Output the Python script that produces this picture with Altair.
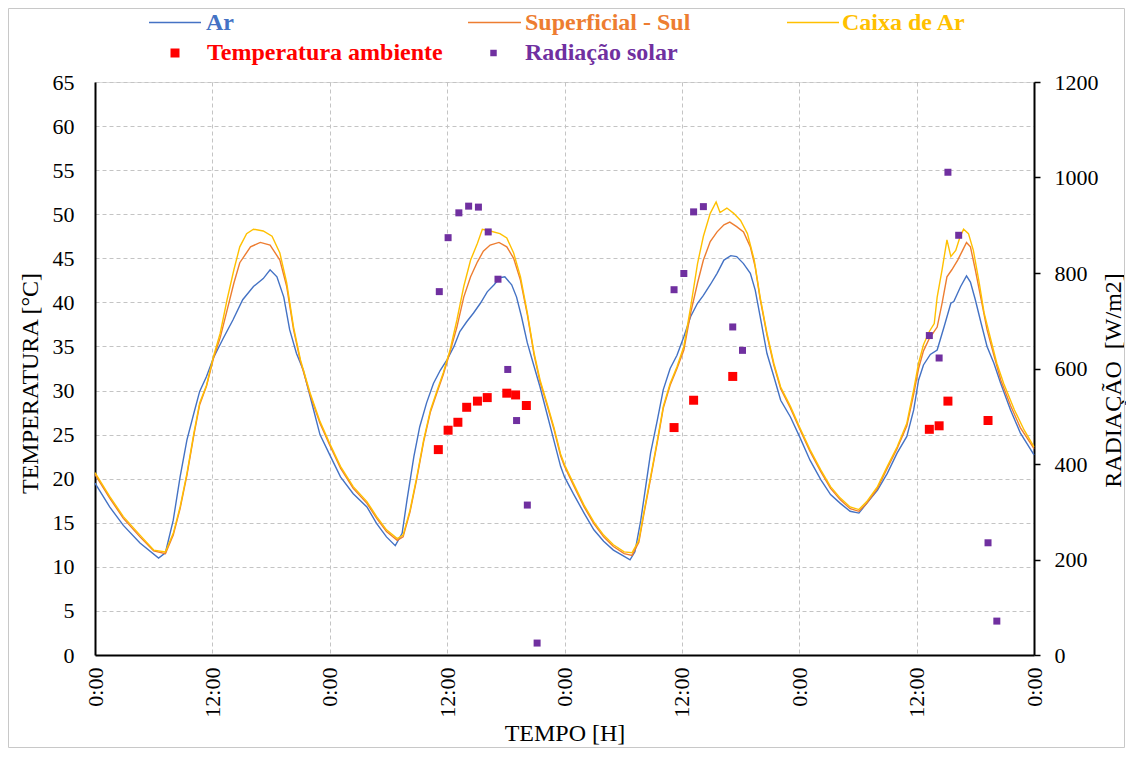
import altair as alt
import pandas as pd

FONT = "Liberation Serif"

# ---- Ar (blue) ----
AR_H = [0.0, 1.5, 2.9, 4.6, 6.5, 7.2, 8.0, 8.7, 9.4, 10.1, 10.7, 11.4, 12.1, 13.1, 14.1, 15.1, 16.2, 17.2, 17.9,
        18.6, 19.3, 19.9, 20.6, 21.3, 22.0, 23.0, 24.0, 25.1, 26.4, 27.8, 28.8, 29.8, 30.7, 31.4, 31.9, 32.6,
        33.2, 33.9, 34.6, 35.3, 36.0, 36.7, 37.3, 38.0, 38.7, 39.4, 40.1, 40.8, 41.4, 41.9, 42.6, 43.1, 43.6,
        44.2, 44.9, 45.5, 46.2, 46.9, 47.6, 48.0, 48.9, 50.0, 51.0, 52.0, 53.0, 54.1, 54.7, 55.2, 55.8, 56.3,
        56.8, 57.5, 58.1, 58.8, 59.5, 60.2, 60.9, 61.6, 62.2, 62.9, 63.6, 64.3, 65.0, 65.6, 66.3, 67.0, 67.5,
        68.0, 68.7, 69.4, 70.1, 71.1, 72.1, 73.1, 74.2, 75.2, 76.2, 77.2, 78.1, 78.9, 80.0, 81.0, 82.0, 83.0,
        83.7, 84.2, 84.7, 85.4, 86.1, 86.8, 87.5, 87.8, 88.5, 89.1, 89.5, 90.0, 90.6, 91.2, 91.9, 92.6, 93.6,
        94.6, 96.0]
AR_T = [19.5, 16.8, 14.7, 12.7, 11.0, 11.6, 15.3, 20.2, 24.4, 27.4, 29.9, 31.6, 33.7, 35.9, 38.0, 40.3, 41.8, 42.7, 43.7,
        42.9, 40.6, 36.9, 34.2, 32.3, 29.3, 25.0, 22.7, 20.2, 18.3, 16.8, 14.9, 13.4, 12.4, 13.8, 17.6, 22.5,
        25.9, 28.6, 30.8, 32.3, 33.5, 35.0, 36.7, 37.8, 38.8, 39.9, 41.2, 42.0, 42.8, 42.9, 42.0, 40.6, 38.4,
        35.4, 32.7, 30.4, 27.4, 24.4, 21.4, 20.2, 18.3, 16.1, 14.2, 12.9, 11.9, 11.2, 10.8, 11.7, 15.3, 19.1,
        22.9, 26.7, 30.1, 32.5, 34.0, 36.1, 38.4, 39.9, 40.8, 42.0, 43.3, 44.8, 45.3, 45.2, 44.4, 43.3, 41.4,
        38.4, 34.2, 31.6, 28.9, 27.0, 24.6, 22.1, 19.9, 18.2, 17.2, 16.3, 16.1, 17.2, 18.7, 20.6, 22.9, 24.8,
        27.8, 31.2, 32.9, 34.1, 34.6, 37.2, 39.9, 40.1, 41.8, 43.0, 42.3, 40.3, 37.6, 35.0, 33.1, 30.8, 27.8,
        25.2, 22.7]

# ---- Superficial - Sul (orange) ----
SUP_H = [0.0, 1.5, 2.9, 4.6, 6.0, 7.2, 8.0, 8.7, 9.4, 10.1, 10.7, 11.4, 12.1, 12.8, 13.5, 14.2, 14.8, 15.9, 16.9,
         17.9, 18.9, 19.6, 20.3, 21.0, 22.0, 23.0, 24.0, 25.1, 26.4, 27.8, 28.8, 29.8, 30.9, 31.5, 32.2, 32.9,
         33.6, 34.3, 35.0, 35.6, 36.3, 37.0, 37.7, 38.4, 39.1, 39.7, 40.4, 41.3, 42.1, 42.8, 43.5, 44.2, 44.9,
         45.5, 46.2, 46.9, 47.6, 48.0, 48.9, 50.0, 51.0, 52.0, 53.0, 54.1, 54.9, 55.6, 56.1, 56.8, 57.5, 58.1,
         58.8, 59.5, 60.2, 60.9, 61.6, 62.2, 62.9, 63.6, 64.3, 64.9, 65.6, 66.3, 67.0, 67.5, 68.0, 68.7, 69.4,
         70.1, 71.1, 72.1, 73.1, 74.2, 75.2, 76.2, 77.2, 78.1, 78.9, 80.0, 81.0, 82.0, 83.0, 83.7, 84.2, 84.7,
         85.3, 86.1, 86.6, 87.1, 87.6, 88.2, 88.7, 89.1, 89.5, 90.0, 90.6, 91.2, 91.9, 92.6, 93.6, 94.6, 96.0]
SUP_T = [20.5, 17.8, 15.5, 13.4, 11.8, 11.5, 13.6, 16.6, 20.4, 24.9, 28.4, 30.5, 33.6, 36.0, 39.1, 42.2, 44.5, 46.3, 46.8,
         46.5, 44.8, 41.8, 36.9, 33.3, 29.5, 26.3, 23.8, 21.2, 18.9, 17.2, 15.5, 14.0, 13.0, 13.4, 16.2, 20.0,
         24.2, 27.6, 29.9, 31.8, 34.4, 37.2, 40.6, 42.9, 44.6, 45.8, 46.5, 46.8, 46.3, 45.0, 42.5, 38.6, 34.0,
         31.0, 28.4, 25.7, 22.6, 21.4, 19.3, 16.8, 14.9, 13.4, 12.3, 11.5, 11.3, 12.8, 15.9, 20.0, 24.2, 28.0,
         30.6, 32.5, 34.6, 38.8, 42.2, 44.8, 46.9, 48.0, 48.8, 49.1, 48.6, 48.0, 46.3, 44.0, 40.4, 36.3, 32.9,
         30.2, 28.0, 25.5, 23.1, 20.8, 18.9, 17.6, 16.6, 16.3, 17.2, 18.9, 21.2, 23.4, 26.0, 29.6, 32.5, 34.5,
         35.9, 37.2, 39.9, 42.9, 43.7, 44.8, 45.9, 46.8, 46.3, 43.7, 40.3, 36.9, 34.0, 31.2, 28.3, 25.8, 23.4]

# ---- Caixa de Ar (yellow) ----
CX_H = [0.0, 1.5, 2.9, 4.6, 6.0, 7.2, 8.0, 8.7, 9.4, 10.1, 10.7, 11.4, 12.1, 12.8, 13.5, 14.2, 14.8, 15.5, 16.2,
        17.2, 18.1, 18.9, 19.6, 20.3, 21.0, 22.0, 23.0, 24.0, 25.1, 26.4, 27.8, 28.8, 29.8, 30.9, 31.5, 32.2,
        32.9, 33.6, 34.3, 35.0, 35.6, 36.3, 37.0, 37.7, 38.4, 39.1, 39.6, 40.4, 41.4, 42.1, 42.8, 43.5, 44.2,
        44.9, 45.5, 46.2, 46.9, 47.6, 48.0, 48.9, 50.0, 51.0, 52.0, 53.0, 54.1, 54.9, 55.6, 56.1, 56.8, 57.5,
        58.1, 58.8, 59.5, 60.2, 60.9, 61.6, 62.2, 62.9, 63.5, 63.9, 64.6, 65.3, 66.0, 66.7, 67.4, 68.0, 68.7,
        69.4, 70.1, 71.1, 72.1, 73.1, 74.2, 75.2, 76.2, 77.2, 78.1, 78.9, 80.0, 81.0, 82.0, 83.0, 83.7, 84.2,
        84.7, 85.3, 85.8, 86.1, 86.6, 87.1, 87.5, 88.0, 88.4, 88.8, 89.3, 89.8, 90.4, 90.9, 91.6, 92.2, 92.9,
        94.0, 95.0, 96.0]
CX_T = [20.7, 18.0, 15.7, 13.6, 11.9, 11.7, 13.8, 16.8, 20.6, 25.1, 28.6, 30.6, 33.8, 36.5, 40.3, 43.7, 46.3, 47.8, 48.3,
        48.1, 47.5, 45.6, 42.2, 37.2, 33.5, 29.7, 26.5, 24.0, 21.4, 19.1, 17.4, 15.7, 14.2, 13.2, 13.6, 16.4,
        20.2, 24.4, 27.8, 30.1, 32.0, 34.6, 38.0, 41.8, 44.8, 46.7, 48.3, 48.1, 47.8, 47.3, 45.6, 42.9, 38.8,
        34.2, 31.2, 28.6, 25.9, 22.8, 21.6, 19.5, 17.0, 15.1, 13.6, 12.5, 11.7, 11.6, 13.0, 16.1, 20.2, 24.4,
        28.2, 30.8, 32.7, 35.0, 39.5, 44.4, 47.5, 50.1, 51.4, 50.2, 50.7, 50.1, 49.3, 47.8, 44.8, 40.6, 36.5,
        33.1, 30.4, 28.2, 25.7, 23.3, 21.0, 19.1, 17.8, 16.8, 16.5, 17.4, 19.1, 21.4, 23.6, 26.3, 30.1, 33.1,
        35.2, 36.7, 37.6, 40.6, 43.7, 47.1, 45.2, 45.9, 47.3, 48.3, 47.8, 45.9, 42.2, 38.8, 35.7, 33.1, 30.8,
        27.8, 25.5, 23.6]

# ---- Temperatura ambiente (red squares) ----
AMB_H = [35.1, 36.1, 37.1, 38.0, 39.1, 40.1, 42.1, 43.0, 44.1, 59.2, 61.2, 65.2, 85.3, 86.3, 87.2, 91.3]
AMB_T = [23.3, 25.5, 26.4, 28.1, 28.8, 29.2, 29.7, 29.5, 28.3, 25.8, 28.9, 31.6, 25.6, 26.0, 28.8, 26.6]

# ---- Radiação solar (purple squares, right axis) ----
RAD_H = [35.2, 36.1, 37.2, 38.2, 39.2, 40.2, 41.2, 42.2, 43.1, 44.2, 45.2,
         59.2, 60.2, 61.2, 62.2, 65.2, 66.2,
         85.3, 86.3, 87.2, 88.3, 91.3, 92.2]
RAD_W = [761, 874, 926, 940, 938, 886, 787, 598, 491, 314, 25,
         765, 799, 928, 939, 687, 638,
         669, 622, 1011, 879, 235, 71]

C_AR, C_SUP, C_CX, C_AMB, C_RAD = "#4472C4", "#ED7D31", "#FFC000", "#FF0000", "#7030A0"
GRID = "#c4c4c4"

x_scale = alt.Scale(domain=[0, 96], nice=False, zero=False)
y_scale = alt.Scale(domain=[0, 65], nice=False)
r_scale = alt.Scale(domain=[0, 1200], nice=False)

x_axis = alt.Axis(values=list(range(0, 97, 12)),
                  labelExpr="datum.value % 24 == 0 ? '0:00' : '12:00'",
                  labelAngle=270, labelPadding=12, ticks=False, labelFlush=False, labelOverlap=False,
                  labelFont=FONT, labelFontSize=22, labelColor="black",
                  grid=True, gridColor=GRID, gridDash=[4, 3], gridWidth=1,
                  domainColor="black", domainWidth=2,
                  title="TEMPO [H]", titleFont=FONT, titleFontSize=24, titleFontWeight="normal",
                  titleColor="black", titleY=78, titleBaseline="middle")

y_axis = alt.Axis(values=list(range(0, 66, 5)), orient="left", ticks=False, labelPadding=21,
                  labelFont=FONT, labelFontSize=22, labelColor="black", labelOverlap=False, labelFlush=False,
                  grid=True, gridColor=GRID, gridDash=[4, 3], gridWidth=1,
                  domainColor="black", domainWidth=2,
                  title="TEMPERATURA [°C]", titleFont=FONT, titleFontSize=24, titleFontWeight="normal",
                  titleColor="black", titleX=-65, titleY=301, titleAngle=270, titleBaseline="middle",
                  titleAlign="center")

r_axis = alt.Axis(values=list(range(0, 1201, 200)), orient="right", grid=False, format="d",
                  tickSize=6, tickColor="black", tickWidth=1.5, labelPadding=14,
                  labelFont=FONT, labelFontSize=22, labelColor="black", labelOverlap=False, labelFlush=False,
                  domainColor="black", domainWidth=2,
                  title="RADIAÇÃO\u00a0 [W/m2]", titleFont=FONT, titleFontSize=24, titleFontWeight="normal",
                  titleColor="black", titleX=79, titleY=298, titleAngle=270, titleBaseline="middle",
                  titleAlign="center")


def line_layer(h, t, color):
    df = pd.DataFrame({"h": h, "t": t})
    return alt.Chart(df).mark_line(color=color, strokeWidth=1.4).encode(
        x=alt.X("h:Q", scale=x_scale, axis=x_axis),
        y=alt.Y("t:Q", scale=y_scale, axis=y_axis),
    )


amb_df = pd.DataFrame({"h": AMB_H, "t": AMB_T})
amb = alt.Chart(amb_df).mark_square(size=81, color=C_AMB, opacity=1).encode(
    x=alt.X("h:Q", scale=x_scale, axis=x_axis),
    y=alt.Y("t:Q", scale=y_scale, axis=y_axis),
)

temp_layer = alt.layer(line_layer(AR_H, AR_T, C_AR),
                       line_layer(SUP_H, SUP_T, C_SUP),
                       line_layer(CX_H, CX_T, C_CX),
                       amb)

rad_df = pd.DataFrame({"h": RAD_H, "w": RAD_W})
rad = alt.Chart(rad_df).mark_square(size=49, color=C_RAD, opacity=1).encode(
    x=alt.X("h:Q", scale=x_scale, axis=x_axis),
    y=alt.Y("w:Q", scale=r_scale, axis=r_axis),
)

# ---- manual legend (Excel-style, two rows) ----
one = alt.InlineData(values=[{"k": 1}])


def leg_text(txt, color, x, y):
    return alt.Chart(one).mark_text(text=txt, align="left", baseline="middle", font=FONT, fontSize=24,
                                    fontWeight="bold", color=color).encode(x=alt.value(x), y=alt.value(y))


def leg_line(color, x1, x2, y):
    return alt.Chart(one).mark_rule(color=color, strokeWidth=1.4).encode(
        x=alt.value(x1), x2=alt.value(x2), y=alt.value(y))


def leg_square(color, size, x, y):
    return alt.Chart(one).mark_square(color=color, size=size, opacity=1).encode(
        x=alt.value(x), y=alt.value(y))


R1, R2 = -59.5, -29
legend = alt.layer(
    leg_line(C_AR, 54, 106, R1), leg_text("Ar", C_AR, 111, R1),
    leg_line(C_SUP, 373, 426, R1), leg_text("Superficial - Sul", C_SUP, 430, R1),
    leg_line(C_CX, 692, 744, R1), leg_text("Caixa de Ar", C_CX, 747, R1),
    leg_square(C_AMB, 81, 80, R2), leg_text("Temperatura ambiente", C_AMB, 112, R2),
    leg_square(C_RAD, 42, 398.5, R2), leg_text("Radiação solar", C_RAD, 430, R2),
)

frame = alt.Chart(one).mark_rect(fillOpacity=0, stroke="#c8c8c8", strokeWidth=1).encode(
    x=alt.value(-86.5), x2=alt.value(1029.5), y=alt.value(-73.5), y2=alt.value(665.5))

chart = alt.layer(frame, temp_layer, rad, legend).resolve_scale(y="independent").properties(
    width=939, height=573,
    autosize=alt.AutoSizeParams(type="none"),
    padding={"left": 87, "top": 74, "right": 92, "bottom": 93},
    background="white",
).configure_view(stroke="black", strokeWidth=1.5).configure(
    font=FONT
).configure_axis(labelFont=FONT, titleFont=FONT)

chart.save("out.html", embed_options={"renderer": "svg", "actions": False})
